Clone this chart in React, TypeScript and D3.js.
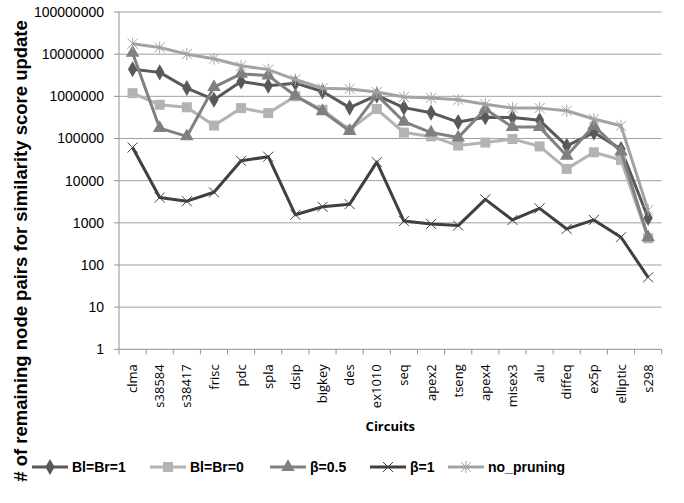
import * as d3 from "d3";
import React, { useEffect, useRef } from "react";

const categories = ["clma", "s38584", "s38417", "frisc", "pdc", "spla", "dsip", "bigkey", "des", "ex1010", "seq", "apex2", "tseng", "apex4", "misex3", "alu", "diffeq", "ex5p", "elliptic", "s298"];
const blBr1 = [4400000, 3700000, 1570000, 830000, 2250000, 1780000, 2050000, 1300000, 540000, 1050000, 540000, 410000, 245000, 320000, 315000, 270000, 67000, 138000, 56000, 1300];
const blBr0 = [1190000, 630000, 550000, 203000, 525000, 400000, 1000000, 480000, 160000, 500000, 138000, 112000, 68000, 80000, 97000, 65000, 19000, 47000, 31000, 430];
const beta05 = [10700000, 176000, 112000, 1660000, 3400000, 3100000, 1030000, 440000, 150000, 1080000, 250000, 138000, 105000, 500000, 186000, 186000, 39000, 200000, 49000, 455];
const beta1 = [61000, 3980, 3260, 5300, 29500, 37000, 1550, 2400, 2770, 27500, 1100, 940, 860, 3600, 1170, 2200, 716, 1170, 455, 51];
const noPruning = [17700000, 14400000, 10000000, 7800000, 5300000, 4300000, 2500000, 1550000, 1500000, 1260000, 960000, 910000, 830000, 650000, 525000, 525000, 455000, 290000, 200000, 2000];
const yTicks = [1, 10, 100, 1000, 10000, 100000, 1000000, 10000000, 100000000];

const seriesNames = ["Bl=Br=1", "Bl=Br=0", "β=0.5", "β=1", "no_pruning"];
const seriesValues = [blBr1, blBr0, beta05, beta1, noPruning];
const seriesColors = ["#595959", "#b3b3b3", "#808080", "#404040", "#a3a3a3"];
const seriesMarkers = ["diamond", "square", "triangle", "x", "star"];

const W = 684, H = 503;
const plot = { left: 119, right: 661.7, top: 12, bottom: 349.3 };

function drawMarker(g, kind, x, y, color) {
    if (kind === "diamond") {
        g.append("path").attr("d", d3.symbol(d3.symbolDiamond, 75)()).attr("transform", `translate(${x},${y})`).attr("fill", color);
    } else if (kind === "square") {
        g.append("path").attr("d", d3.symbol(d3.symbolSquare, 100)()).attr("transform", `translate(${x},${y})`).attr("fill", color);
    } else if (kind === "triangle") {
        g.append("path").attr("d", d3.symbol(d3.symbolTriangle, 80)()).attr("transform", `translate(${x},${y})`).attr("fill", color);
    } else if (kind === "x") {
        const s = 5;
        g.append("path").attr("d", `M${x - s},${y - s}L${x + s},${y + s}M${x - s},${y + s}L${x + s},${y - s}`).attr("stroke", color).attr("stroke-width", 1);
    } else {
        const s = 5;
        g.append("path")
            .attr("d", `M${x - s},${y - s}L${x + s},${y + s}M${x - s},${y + s}L${x + s},${y - s}M${x},${y - s - 1}L${x},${y + s + 1}`)
            .attr("stroke", color).attr("stroke-width", 1);
    }
}

export default function App() {
    const svgRef = useRef(null);

    useEffect(() => {
        const svg = d3.select(svgRef.current);
        svg.selectAll("*").remove();

        const x = d3.scaleBand().domain(categories).range([plot.left, plot.right]);
        const y = d3.scaleLog().domain([1, 100000000]).range([plot.bottom, plot.top]);

        // gridlines
        svg.append("g").selectAll("line").data(yTicks.slice(1)).join("line")
            .attr("x1", plot.left).attr("x2", plot.right)
            .attr("y1", d => y(d)).attr("y2", d => y(d))
            .attr("stroke", "#a0a0a0").attr("stroke-width", 1);

        // axes
        const ax = svg.append("g").attr("stroke", "#909090").attr("stroke-width", 1);
        ax.append("line").attr("x1", plot.left).attr("x2", plot.left).attr("y1", plot.top).attr("y2", plot.bottom);
        ax.append("line").attr("x1", plot.left).attr("x2", plot.right).attr("y1", plot.bottom).attr("y2", plot.bottom);
        ax.selectAll(".yt").data(yTicks).join("line").attr("class", "yt")
            .attr("x1", plot.left - 5).attr("x2", plot.left).attr("y1", d => y(d)).attr("y2", d => y(d));
        const bounds = categories.map(c => x(c)).concat([plot.right]);
        ax.selectAll(".xt").data(bounds).join("line").attr("class", "xt")
            .attr("x1", d => d).attr("x2", d => d).attr("y1", plot.bottom).attr("y2", plot.bottom + 5);

        // y tick labels
        svg.append("g").selectAll("text").data(yTicks).join("text")
            .attr("x", 104).attr("y", d => y(d)).attr("dy", "0.35em")
            .attr("text-anchor", "end")
            .attr("font-family", "'Liberation Sans', Arial, sans-serif").attr("font-size", 14)
            .attr("fill", "#000")
            .text(d => String(d));

        // x tick labels
        svg.append("g").selectAll("text").data(categories).join("text")
            .attr("transform", d => `translate(${x(d) + x.bandwidth() / 2},${plot.bottom + 15}) rotate(-90)`)
            .attr("text-anchor", "end").attr("dy", "0.35em")
            .attr("font-family", "'Open Sans', sans-serif").attr("font-size", 13)
            .attr("fill", "#000")
            .text(d => d);

        // titles
        svg.append("text")
            .attr("x", (plot.left + plot.right) / 2).attr("y", 431)
            .attr("text-anchor", "middle")
            .attr("font-family", "'Open Sans', sans-serif").attr("font-weight", "bold").attr("font-size", 13)
            .text("Circuits");
        svg.append("text")
            .attr("transform", "translate(27,251) rotate(-90)")
            .attr("text-anchor", "middle")
            .attr("font-family", "'Liberation Sans', Arial, sans-serif").attr("font-weight", "bold").attr("font-size", 18.5)
            .text("# of remaining node pairs for similarity score update");

        // series
        const line = d3.line().x((d, i) => x(categories[i]) + x.bandwidth() / 2).y(d => y(d));
        seriesValues.forEach((vals, si) => {
            const g = svg.append("g");
            g.append("path").datum(vals).attr("d", line)
                .attr("fill", "none").attr("stroke", seriesColors[si]).attr("stroke-width", 3)
                .attr("stroke-linejoin", "round");
            vals.forEach((v, i) => drawMarker(g, seriesMarkers[si], x(categories[i]) + x.bandwidth() / 2, y(v), seriesColors[si]));
        });

        // legend
        const legendX = [32, 150, 270, 370, 448];
        const ly = 467;
        seriesNames.forEach((name, si) => {
            const g = svg.append("g");
            const lx = legendX[si];
            g.append("line").attr("x1", lx).attr("x2", lx + 36).attr("y1", ly).attr("y2", ly)
                .attr("stroke", seriesColors[si]).attr("stroke-width", 3);
            drawMarker(g, seriesMarkers[si], lx + 18, ly, seriesColors[si]);
            g.append("text").attr("x", lx + 40).attr("y", ly).attr("dy", "0.35em")
                .attr("font-family", "'Liberation Sans', Arial, sans-serif").attr("font-weight", "bold").attr("font-size", 14)
                .text(name);
        });
    }, []);

    return (
        <svg ref={svgRef} width={W} height={H} style={{ position: "absolute", left: 0, top: 0, background: "#fff" }} />
    );
}
